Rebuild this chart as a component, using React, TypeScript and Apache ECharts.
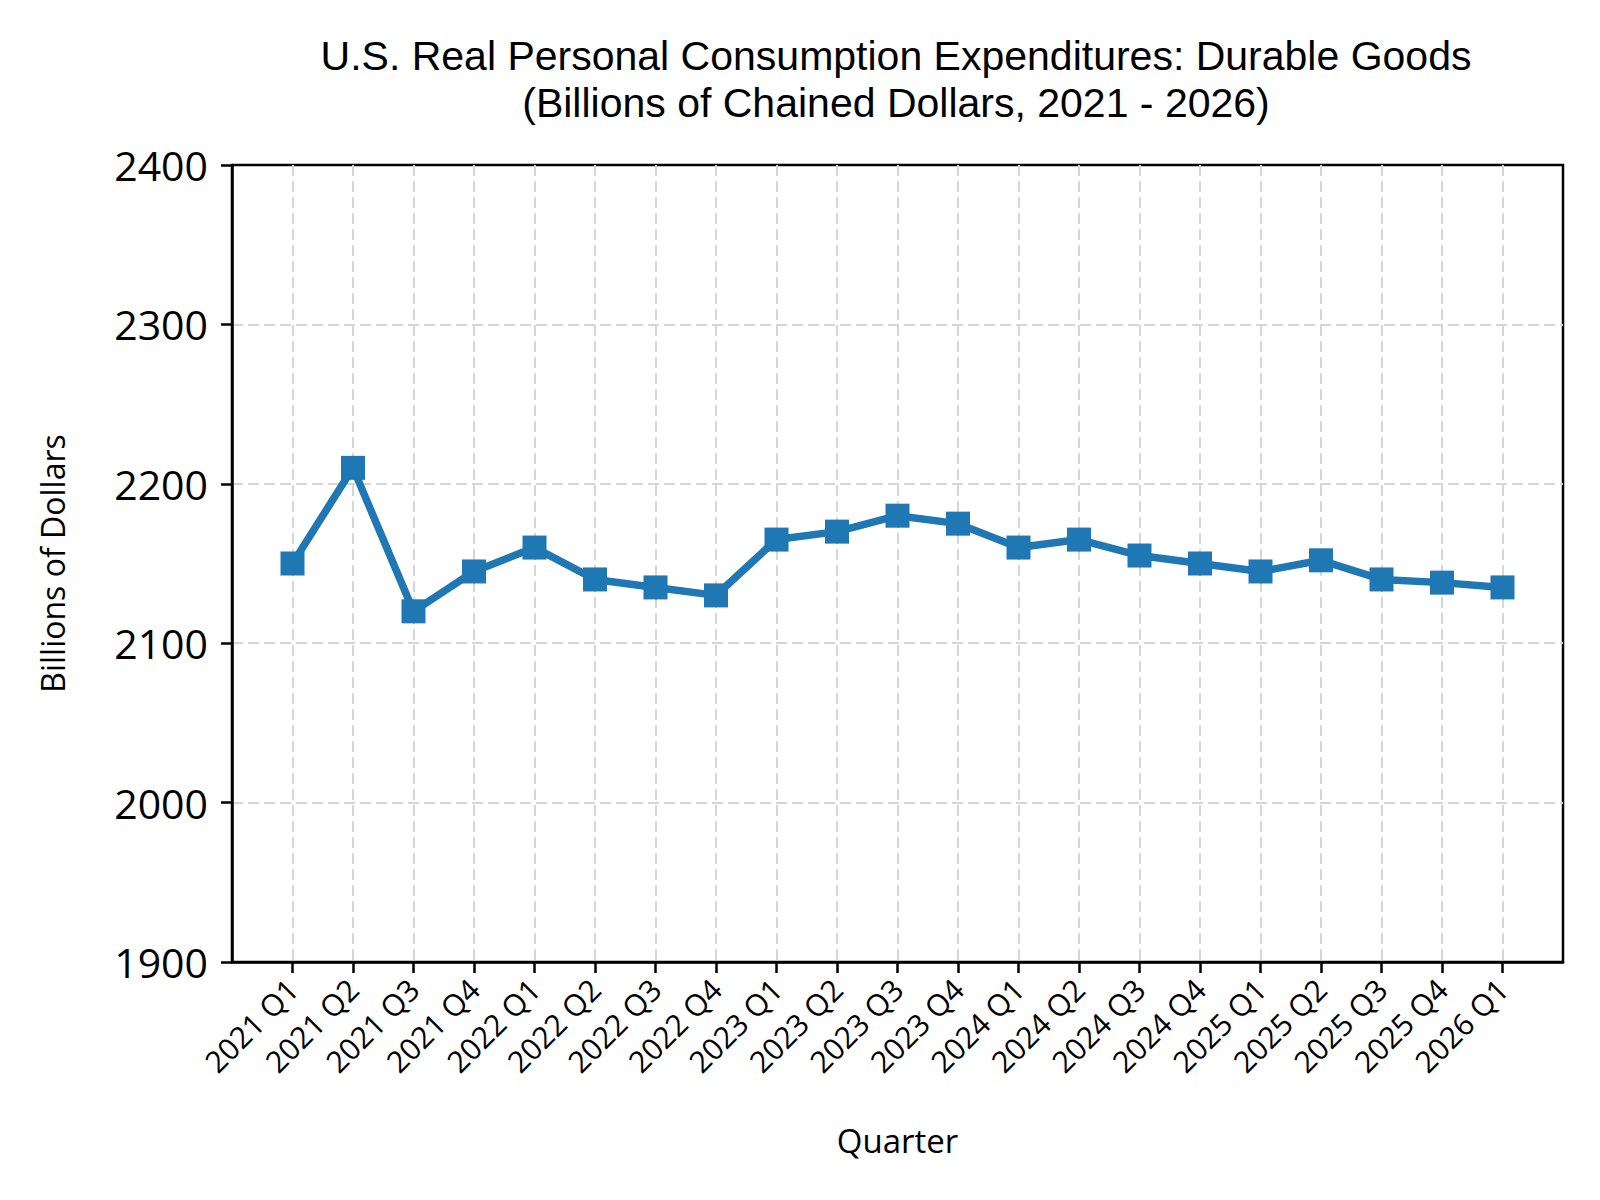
import React, { useEffect, useRef } from 'react';
import * as echarts from 'echarts';

// quarterly real PCE durable goods, billions of chained dollars
const quarters = [
  '2021 Q1', '2021 Q2', '2021 Q3', '2021 Q4',
  '2022 Q1', '2022 Q2', '2022 Q3', '2022 Q4',
  '2023 Q1', '2023 Q2', '2023 Q3', '2023 Q4',
  '2024 Q1', '2024 Q2', '2024 Q3', '2024 Q4',
  '2025 Q1', '2025 Q2', '2025 Q3', '2025 Q4',
  '2026 Q1',
];
const durableGoods = [
  2150, 2210, 2120, 2145,
  2160, 2140, 2135, 2130,
  2165, 2170, 2180, 2175,
  2160, 2165, 2155, 2150,
  2145, 2152, 2140, 2138,
  2135,
];
const yTicks = [1900, 2000, 2100, 2200, 2300, 2400];

const FONT = '"Open Sans", "Noto Sans", sans-serif';
// tighter line box so the two title lines sit 47px apart without colliding
const TITLE_FONT = '"Liberation Sans", Arial, sans-serif';

const App: React.FC = () => {
  const chartRef = useRef<HTMLDivElement>(null);

  useEffect(() => {
    document.body.style.margin = '0';
    if (!chartRef.current) return;
    const chart = echarts.init(chartRef.current, undefined, { renderer: 'svg' });

    // pad one empty slot each side, like matplotlib's x margins
    const cats = ['', ...quarters, ''];
    const vals = [null, ...durableGoods, null];
    const inner = (i: number) => i > 0 && i < cats.length - 1;

    const option: echarts.EChartsOption = {
      animation: false,
      backgroundColor: '#ffffff',
      textStyle: { fontFamily: FONT },
      title: {
        text: 'U.S. Real Personal Consumption Expenditures: Durable Goods\n(Billions of Chained Dollars, 2021 - 2026)',
        left: 891,
        top: 27,
        textAlign: 'center',
        textStyle: {
          fontFamily: TITLE_FONT,
          fontSize: 41,
          fontWeight: 'normal',
          color: '#000',
          lineHeight: 47,
        },
      },
      grid: {
        left: 232,
        right: 37,
        top: 165,
        bottom: 238,
        show: true,
        borderColor: '#000',
        borderWidth: 2.5,
        backgroundColor: 'transparent',
      },
      xAxis: {
        type: 'category',
        data: cats,
        boundaryGap: false,
        name: 'Quarter',
        nameLocation: 'middle',
        nameGap: 162,
        nameTextStyle: { fontFamily: FONT, fontSize: 33, color: '#000', verticalAlign: 'top' },
        axisLine: { lineStyle: { color: '#000', width: 2.5 } },
        axisTick: {
          length: 11,
          alignWithLabel: true,
          interval: (i: number) => inner(i),
          lineStyle: { color: '#000', width: 2.5 },
        },
        axisLabel: {
          interval: (i: number) => inner(i),
          rotate: 45,
          margin: 22,
          fontFamily: FONT,
          fontSize: 30,
          color: '#000',
        },
        splitLine: {
          show: true,
          interval: (i: number) => inner(i),
          lineStyle: { color: '#d6d6d6', width: 2, type: [11, 5] },
        },
      },
      yAxis: {
        type: 'value',
        min: yTicks[0],
        max: yTicks[yTicks.length - 1],
        interval: 100,
        name: 'Billions of Dollars',
        nameLocation: 'middle',
        nameRotate: 90,
        nameGap: 164,
        nameTextStyle: { fontFamily: FONT, fontSize: 32, color: '#000' },
        axisLine: { show: true, lineStyle: { color: '#000', width: 2.5 } },
        axisTick: { show: true, length: 11, lineStyle: { color: '#000', width: 2.5 } },
        axisLabel: {
          margin: 24,
          fontFamily: FONT,
          fontSize: 41,
          color: '#000',
          formatter: (v: number) => String(v),
        },
        splitLine: {
          show: true,
          showMinLine: false,
          showMaxLine: false,
          lineStyle: { color: '#d6d6d6', width: 2, type: [11, 5] },
        },
      },
      series: [
        {
          name: 'Durable Goods',
          type: 'line',
          data: vals,
          symbol: 'rect',
          symbolSize: 24,
          lineStyle: { color: '#1f77b4', width: 7.5 },
          itemStyle: { color: '#1f77b4' },
        },
      ],
    };

    chart.setOption(option);
    return () => {
      chart.dispose();
    };
  }, []);

  return <div ref={chartRef} style={{ width: '1600px', height: '1200px' }} />;
};

export default App;
